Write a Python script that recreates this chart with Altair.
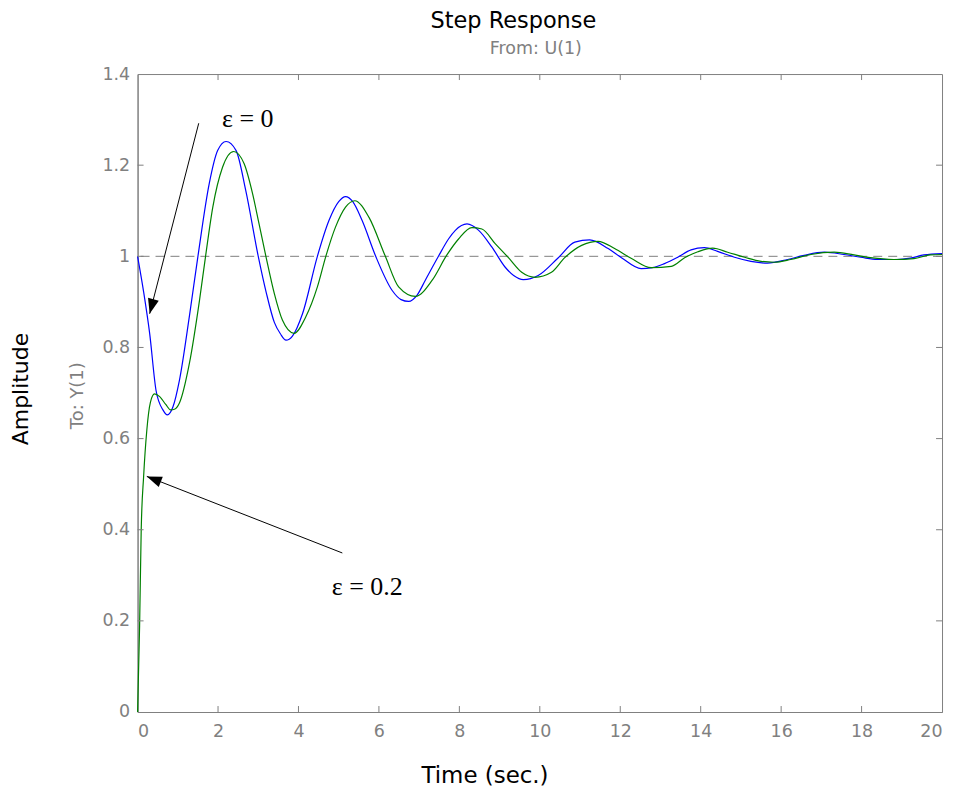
import altair as alt
import pandas as pd

# ---- data ----
t_blue = [0.00, 0.15, 0.30, 0.46, 0.63, 0.74, 0.88, 1.04, 1.29, 1.50, 1.78, 1.99, 2.20, 2.45, 2.69,
          3.00, 3.20, 3.40, 3.55, 3.69, 3.85, 4.10, 4.47, 4.76, 5.00, 5.17, 5.35, 5.58, 5.92,
          6.33, 6.55, 6.74, 6.95, 7.15, 7.48, 7.73, 7.90, 8.19, 8.48, 8.81, 9.14, 9.35, 9.59,
          9.96, 10.46, 10.87, 11.24, 11.70, 12.03, 12.52, 12.80, 13.10, 13.43, 13.76, 14.09,
          14.42, 14.84, 15.25, 15.66, 16.16, 16.57, 17.07, 17.56, 17.98, 18.39, 18.88, 19.21,
          19.55, 20.00]
y_blue = [1.000, 0.922, 0.831, 0.705, 0.663, 0.652, 0.670, 0.728, 0.870, 1.000, 1.159, 1.232, 1.252, 1.232, 1.144,
          1.000, 0.920, 0.855, 0.830, 0.816, 0.825, 0.874, 1.000, 1.079, 1.120, 1.131, 1.120, 1.079, 1.000,
          0.925, 0.905, 0.901, 0.915, 0.947, 1.000, 1.038, 1.057, 1.071, 1.057, 1.020, 0.976, 0.958, 0.949,
          0.958, 0.997, 1.031, 1.036, 1.017, 0.997, 0.973, 0.975, 0.984, 0.998, 1.014, 1.019,
          1.011, 0.998, 0.989, 0.985, 0.993, 1.002, 1.009, 1.004, 0.998, 0.993, 0.993, 0.996,
          1.003, 1.006]

t_green = [0.00, 0.05, 0.09, 0.15, 0.23, 0.32, 0.42, 0.55, 0.70, 0.82, 0.93, 1.04, 1.29, 1.54,
           1.69, 1.87, 2.11, 2.39, 2.65, 2.86, 3.02, 3.19, 3.40, 3.60, 3.89, 4.18, 4.47, 4.68,
           4.92, 5.17, 5.40, 5.75, 6.16, 6.49, 6.91, 7.32, 7.69, 7.98, 8.31, 8.56, 8.89, 9.22,
           9.55, 9.88, 10.29, 10.62, 11.04, 11.45, 11.86, 12.28, 12.77, 13.27, 13.60, 13.93,
           14.30, 14.67, 15.09, 15.50, 15.83, 16.24, 16.74, 17.32, 17.81, 18.22, 18.80, 19.30,
           19.71, 20.00]
y_green = [0.000, 0.189, 0.400, 0.517, 0.619, 0.680, 0.698, 0.692, 0.675, 0.663, 0.665, 0.678, 0.766, 0.904,
           1.000, 1.108, 1.195, 1.230, 1.203, 1.137, 1.071, 1.000, 0.918, 0.860, 0.831, 0.867, 0.933, 1.000,
           1.064, 1.108, 1.122, 1.086, 1.000, 0.933, 0.912, 0.947, 1.003, 1.038, 1.063, 1.060, 1.028, 0.997,
           0.965, 0.954, 0.965, 0.997, 1.024, 1.033, 1.017, 0.995, 0.975, 0.978, 0.997, 1.010,
           1.018, 1.009, 0.998, 0.989, 0.987, 0.993, 1.004, 1.009, 1.003, 0.997, 0.993, 0.995,
           1.003, 1.004]

x_ticks = [2, 4, 6, 8, 10, 12, 14, 16, 18]
y_ticks = [0.2, 0.4, 0.6, 0.8, 1.0, 1.2]

# annotation arrows (start -> tip, data coordinates)
arrow_t0 = [1.52, 5.09]
arrow_y0 = [1.292, 0.349]
arrow_t1 = [0.30, 0.23]
arrow_y1 = [0.874, 0.517]
label_text = ["ε = 0", "ε = 0.2"]
label_t = [2.10, 4.83]
label_y = [1.284, 0.256]

W, H = 807, 640
GREY = "#808080"
SANS = "DejaVu Sans"

df = pd.concat([
    pd.DataFrame({"t": t_blue, "y": y_blue, "s": "eps0"}),
    pd.DataFrame({"t": t_green, "y": y_green, "s": "eps02"}),
])

xs = alt.Scale(domain=[0, 20], nice=False, zero=False)
ys = alt.Scale(domain=[0, 1.4], nice=False, zero=False)

x_axis = alt.Axis(values=list(range(0, 21, 2)), title=None, grid=False, ticks=False, tickSize=0,
                  labelFont=SANS, labelFontSize=17.5, labelColor=GREY, labelPadding=11,
                  domainColor=GREY, domainWidth=1)
y_axis = alt.Axis(values=[0, 0.2, 0.4, 0.6, 0.8, 1.0, 1.2, 1.4], format="~g", title=None, grid=False,
                  ticks=False, tickSize=0, labelFont=SANS, labelFontSize=17.5, labelColor=GREY,
                  labelPadding=8, domainColor=GREY, domainWidth=1)

lines = alt.Chart(df).mark_line(strokeWidth=1.2, interpolate="monotone").encode(
    x=alt.X("t:Q", scale=xs, axis=x_axis),
    y=alt.Y("y:Q", scale=ys, axis=y_axis),
    color=alt.Color("s:N", scale=alt.Scale(domain=["eps0", "eps02"], range=["#0000FF", "#008000"]),
                    legend=None),
    detail="s:N",
)

ref = alt.Chart(pd.DataFrame({"y": [1.0]})).mark_rule(color=GREY, strokeWidth=1, strokeDash=[9, 6]).encode(
    y=alt.Y("y:Q", scale=ys)
)

xt = pd.DataFrame({"t": x_ticks})
yt = pd.DataFrame({"y": y_ticks})
tick_b = alt.Chart(xt).mark_rule(color=GREY).encode(x=alt.X("t:Q", scale=xs), y=alt.value(H), y2=alt.value(H - 6))
tick_t = alt.Chart(xt).mark_rule(color=GREY).encode(x=alt.X("t:Q", scale=xs), y=alt.value(0), y2=alt.value(6))
tick_l = alt.Chart(yt).mark_rule(color=GREY).encode(y=alt.Y("y:Q", scale=ys), x=alt.value(0), x2=alt.value(6))
tick_r = alt.Chart(yt).mark_rule(color=GREY).encode(y=alt.Y("y:Q", scale=ys), x=alt.value(W), x2=alt.value(W - 6))

arr = pd.DataFrame({"t0": arrow_t0, "y0": arrow_y0, "t1": arrow_t1, "y1": arrow_y1})
arrow_lines = alt.Chart(arr).mark_rule(color="black", strokeWidth=1).encode(
    x=alt.X("t0:Q", scale=xs), y=alt.Y("y0:Q", scale=ys), x2="t1:Q", y2="y1:Q"
)
HEAD = "M0,0L-0.37,1L0.37,1Z"
head1 = alt.Chart(arr.iloc[[0]]).mark_point(shape=HEAD, filled=True, color="black", opacity=1,
                                             size=900, angle=194.5, strokeWidth=0).encode(
    x=alt.X("t1:Q", scale=xs), y=alt.Y("y1:Q", scale=ys))
head2 = alt.Chart(arr.iloc[[1]]).mark_point(shape=HEAD, filled=True, color="black", opacity=1,
                                             size=900, angle=291.4, strokeWidth=0).encode(
    x=alt.X("t1:Q", scale=xs), y=alt.Y("y1:Q", scale=ys))

labels = alt.Chart(pd.DataFrame({"txt": label_text, "t": label_t, "y": label_y})).mark_text(
    font="Liberation Serif", fontSize=26, color="black", align="left", baseline="alphabetic"
).encode(x=alt.X("t:Q", scale=xs), y=alt.Y("y:Q", scale=ys), text="txt:N")

def txt(s, x, y, size, color, angle=0, baseline="alphabetic"):
    return alt.Chart(pd.DataFrame({"s": [s]})).mark_text(
        font=SANS, fontSize=size, color=color, align="center", baseline=baseline, angle=angle
    ).encode(x=alt.value(x), y=alt.value(y), text="s:N")

title = txt("Step Response", 377, -46, 22.5, "black")
subtitle = txt("From: U(1)", 399.5, -20, 17.5, GREY)
xtitle = txt("Time (sec.)", 348.5, 711, 23, "black")
ytitle = txt("Amplitude", -117, 316, 22, "black", angle=270, baseline="middle")
ysub = txt("To: Y(1)", -60, 322.7, 18, GREY, angle=270, baseline="middle")

chart = alt.layer(
    ref, lines, tick_b, tick_t, tick_l, tick_r, arrow_lines, head1, head2, labels,
    title, subtitle, xtitle, ytitle, ysub
).properties(
    width=W, height=H,
    padding={"left": 130, "top": 65, "right": 10, "bottom": 82},
    autosize=alt.AutoSizeParams(type="none"),
    background="white",
).configure_view(stroke=GREY, strokeWidth=1)

chart.save("out.html", embed_options={"renderer": "svg", "actions": False})
